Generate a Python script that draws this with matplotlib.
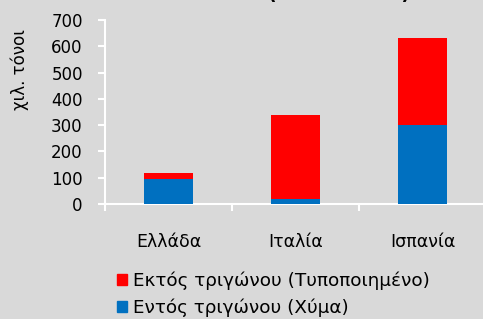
import numpy as np
import matplotlib
matplotlib.use('Agg')
import matplotlib.pyplot as plt
import matplotlib.patches as mpatches

plt.rcParams['font.family'] = ['DejaVu Sans']

# data (thousand tonnes)
countries = ['Ελλάδα', 'Ιταλία', 'Ισπανία']
bulk = [95, 18, 300]          # Εντός τριγώνου (Χύμα)
packed = [23, 320, 330]       # Εκτός τριγώνου (Τυποποιημένο)
yticks = [0, 100, 200, 300, 400, 500, 600, 700]

blue = '#0070C0'
red = '#FF0000'
bg = '#D9D9D9'

fig = plt.figure(figsize=(4.83, 3.19), dpi=100, facecolor=bg)
ax = fig.add_axes([105 / 483, 115 / 319, 381 / 483, 184 / 319])
ax.set_facecolor(bg)

x = np.arange(len(countries))
ax.bar(x, bulk, width=0.39, color=blue, zorder=3)
ax.bar(x, packed, width=0.39, bottom=bulk, color=red, zorder=3)

ax.set_xlim(-0.5, 2.5)
ax.set_ylim(0, 700)
ax.set_yticks(yticks)
ax.set_xticks(x)
ax.set_xticklabels(countries)
ax.set_xticks([-0.5, 0.5, 1.5, 2.5], minor=True)

for s in ['top', 'right']:
    ax.spines[s].set_visible(False)
for s in ['left', 'bottom']:
    ax.spines[s].set_color('white')
    ax.spines[s].set_linewidth(1.5)

ax.tick_params(axis='y', colors='white', labelcolor='black', length=5, width=1.5,
               labelsize=12, pad=11)
ax.tick_params(axis='x', which='major', length=0, labelsize=12.5, pad=21)
ax.tick_params(axis='x', which='minor', colors='white', length=5, width=1.5)

ax.set_ylabel('χιλ. τόνοι', fontsize=12)
ax.yaxis.set_label_coords(-0.20, 0.73)

# title (mostly cut off at the top edge)
fig.text(268 / 483, 1 + 1 / 319, '(2009 - 2010)', fontsize=13.5, fontweight='bold',
         ha='left', va='baseline')

red_patch = mpatches.Patch(color=red, label='Εκτός τριγώνου (Τυποποιημένο)')
blue_patch = mpatches.Patch(color=blue, label='Εντός τριγώνου (Χύμα)')
fig.legend(handles=[red_patch, blue_patch], loc='upper left',
           bbox_to_anchor=(110 / 483, 1 - 264 / 319), frameon=False,
           fontsize=13.2, handlelength=0.55, handleheight=0.55, handletextpad=0.3,
           labelspacing=0.45, borderaxespad=0)

fig.savefig('out.png', dpi=100, facecolor=bg)
